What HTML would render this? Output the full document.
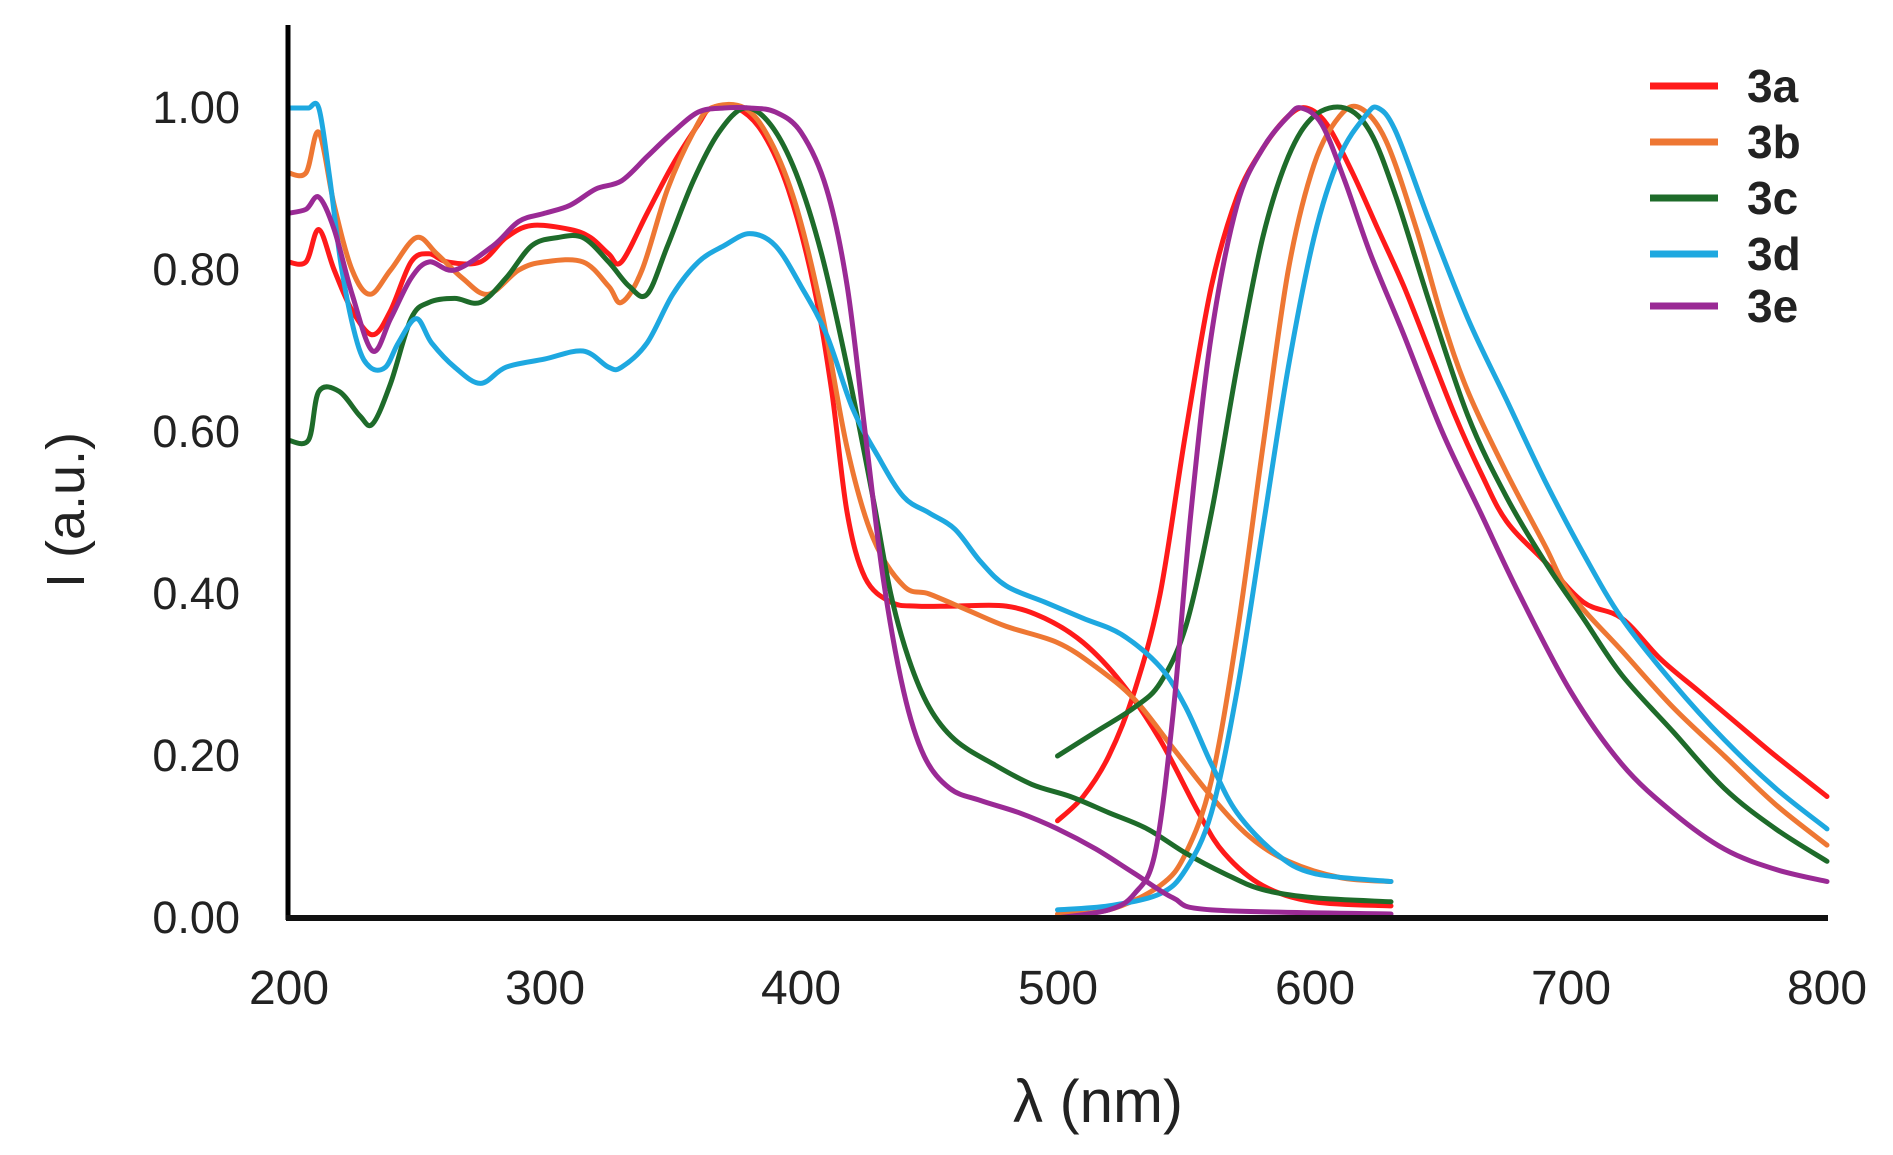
<!DOCTYPE html>
<html><head><meta charset="utf-8"><style>
html,body{margin:0;padding:0;background:#fff;}
svg{display:block;}
text{font-family:"Liberation Sans",sans-serif;}
</style></head><body>
<svg id="s" width="1893" height="1155" viewBox="0 0 1893 1155" xmlns="http://www.w3.org/2000/svg">
<rect width="1893" height="1155" fill="#fff"/>
<g id="curves" fill="none" stroke-width="5" stroke-linejoin="round" stroke-linecap="round"></g>
<line x1="288" y1="25" x2="288" y2="920" stroke="#000" stroke-width="5"/>
<line x1="286" y1="918" x2="1828" y2="918" stroke="#111" stroke-width="6"/>
<g fill="#222" font-size="45" text-anchor="end">
<text x="240" y="123">1.00</text>
<text x="240" y="285">0.80</text>
<text x="240" y="447">0.60</text>
<text x="240" y="609">0.40</text>
<text x="240" y="771">0.20</text>
<text x="240" y="933">0.00</text>
</g>
<g fill="#222" font-size="48" text-anchor="middle">
<text x="289" y="1004">200</text>
<text x="545" y="1004">300</text>
<text x="801" y="1004">400</text>
<text x="1058" y="1004">500</text>
<text x="1315" y="1004">600</text>
<text x="1571" y="1004">700</text>
<text x="1827" y="1004">800</text>
</g>
<text x="1098" y="1122" font-size="60" fill="#222" text-anchor="middle">λ (nm)</text>
<text transform="translate(84,510) rotate(-90)" font-size="54" fill="#222" text-anchor="middle">I (a.u.)</text>
<g stroke-width="7">
<line x1="1650" y1="86" x2="1718" y2="86" stroke="#ff1a1a"/>
<line x1="1650" y1="142" x2="1718" y2="142" stroke="#ee7733"/>
<line x1="1650" y1="198" x2="1718" y2="198" stroke="#1e6b2a"/>
<line x1="1650" y1="254" x2="1718" y2="254" stroke="#1ea8e0"/>
<line x1="1650" y1="306" x2="1718" y2="306" stroke="#9a2a95"/>
</g>
<g font-size="46" font-weight="bold" fill="#222">
<text x="1747" y="102">3a</text>
<text x="1747" y="158">3b</text>
<text x="1747" y="214">3c</text>
<text x="1747" y="270">3d</text>
<text x="1747" y="322">3e</text>
</g>
</svg>
<script>
var X=function(l){return 288+(l-200)*1539/600;},Y=function(v){return 918-810*v;};
var S=[
["#ff1a1a",[[200,0.81],[207,0.81],[212,0.85],[218,0.80],[225,0.75],[233,0.72],[240,0.75],[248,0.81],[255,0.82],[262,0.81],[275,0.81],[285,0.84],[295,0.855],[310,0.85],[318,0.84],[325,0.82],[330,0.81],[340,0.87],[350,0.93],[360,0.98],[365,1.0],[375,1.0],[385,0.97],[395,0.90],[405,0.78],[412,0.65],[418,0.50],[425,0.42],[435,0.39],[445,0.385],[460,0.385],[480,0.385],[495,0.37],[510,0.34],[525,0.29],[540,0.22],[555,0.13],[565,0.08],[580,0.04],[600,0.02],[630,0.015]]],
["#ff1a1a",[[500,0.12],[510,0.15],[520,0.20],[530,0.28],[540,0.40],[550,0.60],[560,0.78],[570,0.89],[580,0.95],[590,0.99],[597,1.0],[605,0.98],[615,0.92],[625,0.85],[635,0.78],[645,0.70],[655,0.62],[665,0.55],[675,0.49],[690,0.44],[705,0.39],[720,0.37],[735,0.32],[750,0.28],[765,0.24],[780,0.20],[800,0.15]]],
["#ee7733",[[200,0.92],[207,0.92],[212,0.97],[218,0.88],[225,0.80],[232,0.77],[240,0.80],[250,0.84],[258,0.82],[268,0.79],[278,0.77],[290,0.80],[300,0.81],[315,0.81],[325,0.78],[330,0.76],[338,0.80],[348,0.90],[358,0.97],[365,1.0],[378,1.0],[388,0.96],[398,0.88],[408,0.75],[418,0.58],[428,0.47],[440,0.41],[450,0.40],[465,0.38],[480,0.36],[500,0.34],[515,0.31],[530,0.27],[545,0.21],[560,0.15],[575,0.10],[590,0.07],[610,0.05],[630,0.045]]],
["#ee7733",[[500,0.005],[520,0.01],[540,0.04],[550,0.08],[560,0.17],[570,0.35],[580,0.58],[590,0.80],[600,0.93],[610,0.99],[618,1.0],[628,0.96],[640,0.85],[650,0.74],[660,0.65],[675,0.55],[690,0.46],[700,0.40],[720,0.33],[740,0.26],[760,0.20],[780,0.14],[800,0.09]]],
["#1e6b2a",[[200,0.59],[208,0.59],[212,0.65],[220,0.65],[228,0.62],[233,0.61],[240,0.66],[248,0.74],[255,0.76],[265,0.765],[275,0.76],[285,0.79],[295,0.83],[305,0.84],[315,0.84],[325,0.81],[333,0.78],[340,0.77],[348,0.83],[358,0.91],[368,0.97],[378,1.0],[388,0.98],[398,0.92],[408,0.82],[418,0.68],[428,0.52],[435,0.40],[442,0.32],[450,0.26],[460,0.22],[475,0.19],[490,0.165],[505,0.15],[520,0.13],[535,0.11],[550,0.08],[565,0.055],[580,0.035],[600,0.025],[630,0.02]]],
["#1e6b2a",[[500,0.20],[515,0.23],[530,0.26],[540,0.29],[550,0.36],[560,0.50],[570,0.68],[580,0.84],[590,0.94],[600,0.99],[612,1.0],[622,0.97],[632,0.89],[645,0.76],[660,0.62],[675,0.52],[690,0.44],[705,0.37],[720,0.30],[740,0.23],[760,0.16],[780,0.11],[800,0.07]]],
["#1ea8e0",[[200,1.0],[204,1.0],[208,1.0],[212,1.0],[216,0.92],[221,0.80],[227,0.71],[232,0.68],[238,0.68],[243,0.71],[250,0.74],[256,0.71],[265,0.68],[275,0.66],[285,0.68],[300,0.69],[315,0.70],[325,0.68],[330,0.68],[340,0.71],[350,0.77],[360,0.81],[370,0.83],[380,0.845],[390,0.83],[400,0.78],[410,0.72],[420,0.63],[430,0.57],[440,0.52],[450,0.50],[460,0.48],[470,0.44],[480,0.41],[495,0.39],[510,0.37],[525,0.35],[540,0.31],[550,0.26],[560,0.19],[570,0.13],[585,0.08],[600,0.055],[630,0.045]]],
["#1ea8e0",[[500,0.01],[520,0.015],[540,0.03],[550,0.06],[560,0.13],[570,0.28],[580,0.48],[590,0.68],[600,0.84],[610,0.94],[620,0.99],[625,1.0],[632,0.97],[645,0.86],[660,0.74],[675,0.64],[690,0.54],[705,0.45],[720,0.37],[740,0.29],[760,0.22],[780,0.16],[800,0.11]]],
["#9a2a95",[[200,0.87],[207,0.875],[212,0.89],[218,0.85],[225,0.77],[233,0.70],[240,0.74],[248,0.79],[255,0.81],[265,0.80],[280,0.83],[290,0.86],[300,0.87],[310,0.88],[320,0.90],[330,0.91],[340,0.94],[350,0.97],[360,0.995],[370,1.0],[380,1.0],[390,0.995],[400,0.97],[410,0.90],[418,0.78],[425,0.60],[432,0.42],[440,0.28],[448,0.20],[458,0.16],[470,0.145],[485,0.13],[500,0.11],[515,0.085],[530,0.055],[545,0.025],[560,0.01],[630,0.005]]],
["#9a2a95",[[500,0.0],[520,0.01],[530,0.03],[538,0.08],[545,0.25],[552,0.50],[560,0.72],[570,0.88],[580,0.95],[590,0.99],[595,1.0],[603,0.98],[612,0.91],[622,0.82],[635,0.72],[650,0.60],[665,0.50],[680,0.40],[700,0.28],[720,0.19],[740,0.13],[760,0.085],[780,0.06],[800,0.045]]]
];
var g=document.getElementById("curves"),ns="http://www.w3.org/2000/svg";
S.forEach(function(s){
 var p=s[1].map(function(a){return [X(a[0]),Y(a[1])];});
 var d="M"+p[0][0].toFixed(1)+","+p[0][1].toFixed(1);
 for(var i=0;i<p.length-1;i++){
  var p0=p[i-1]||p[i],p1=p[i],p2=p[i+1],p3=p[i+2]||p2;
  var c1=[p1[0]+(p2[0]-p0[0])/6,p1[1]+(p2[1]-p0[1])/6],c2=[p2[0]-(p3[0]-p1[0])/6,p2[1]-(p3[1]-p1[1])/6];
  d+="C"+c1[0].toFixed(1)+","+c1[1].toFixed(1)+" "+c2[0].toFixed(1)+","+c2[1].toFixed(1)+" "+p2[0].toFixed(1)+","+p2[1].toFixed(1);
 }
 var e=document.createElementNS(ns,"path");e.setAttribute("d",d);e.setAttribute("stroke",s[0]);g.appendChild(e);
});
</script>
</body></html>
